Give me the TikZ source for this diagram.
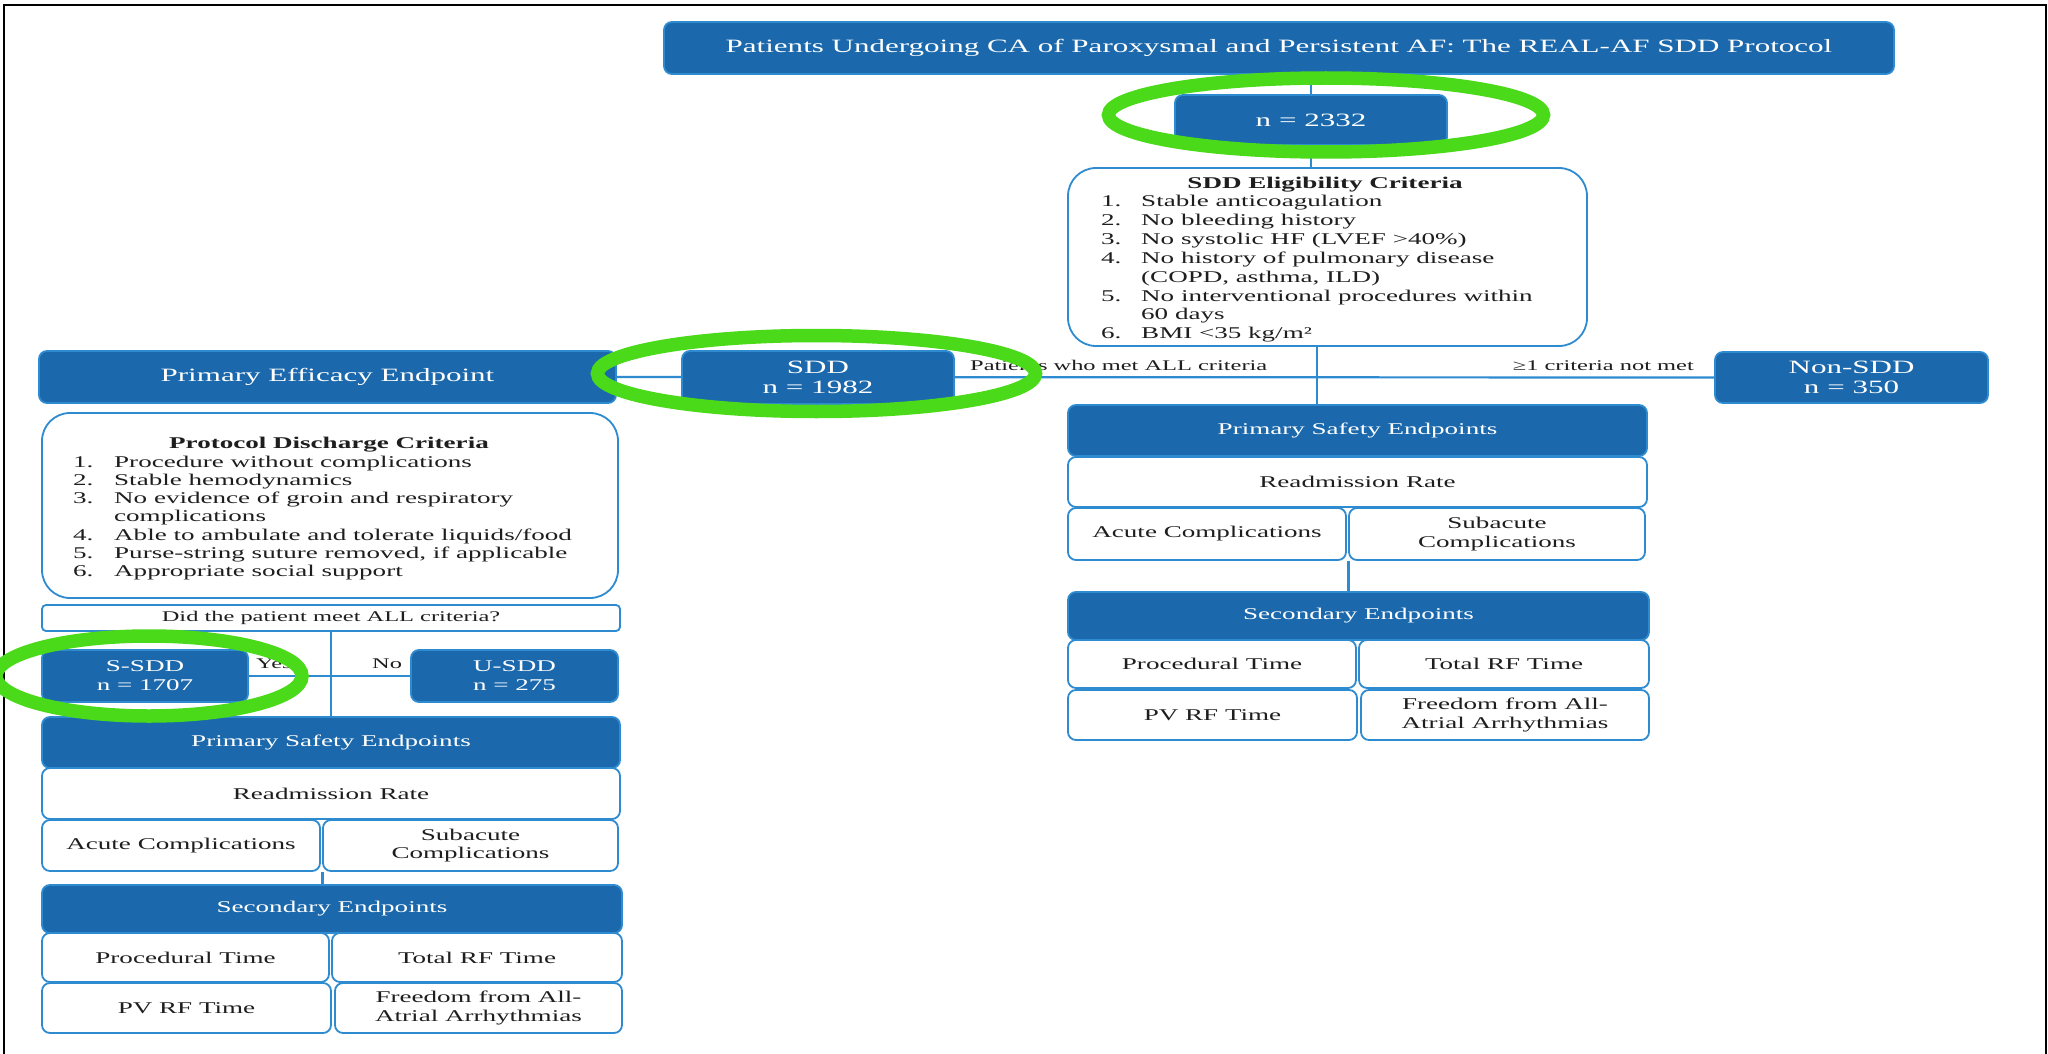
\documentclass[tikz,border=0pt]{standalone}
\usepackage{fontspec}
\setmainfont{Liberation Serif}[FakeStretch=1.65]
\usetikzlibrary{calc,backgrounds}
\definecolor{hblue}{HTML}{1B69AC}
\definecolor{bline}{HTML}{2E8BD0}
\definecolor{tdark}{HTML}{1E1E1E}
\definecolor{markg}{HTML}{4ADA1A}
\newcommand\fA{\fontsize{18.8pt}{20pt}\selectfont}
\newcommand\fB{\fontsize{16.4pt}{18.8pt}\selectfont}
\newcommand\fC{\fontsize{14.8pt}{17pt}\selectfont}
\newcommand\mybox[7]{\node[#1, minimum width={(#5-#3)*1pt}, minimum height={(#6-#4)*1pt}] (#2) at ({(#3+#5)/2},{(#4+#6)/2}) {#7};}
\tikzset{
  hdr/.style={draw=bline, fill=hblue, line width=1.8pt, rounded corners=8pt, text=white, font=\fA, align=center, inner sep=0pt},
  hdrs/.style={hdr, font=\fB},
  wbox/.style={draw=bline, fill=white, line width=1.8pt, rounded corners=8pt, text=tdark, font=\fB, align=center, inner sep=0pt},
  bigbox/.style={wbox, rounded corners=28pt},
  conn/.style={draw=bline, line width=2.2pt},
  lbl/.style={text=tdark, font=\fC, inner sep=0pt},
  ring/.style={draw=markg, line width=13.5pt},
}
\begin{document}
\begin{tikzpicture}[x=1pt,y=-1pt]
\useasboundingbox (0,0) rectangle (2048,1054);
% frame
\draw[line width=2.5pt, black] (4,1054) -- (4,5) -- (2046,5) -- (2046,1054);

% top part
\mybox{hdr}{title}{664}{22}{1894}{74}{Patients Undergoing CA of Paroxysmal and Persistent AF: The REAL-AF SDD Protocol}
\mybox{hdr}{n2332}{1175}{95}{1447}{145}{n = 2332}
\mybox{bigbox}{elig}{1068}{168}{1587}{346}{}
\node[font=\fB\bfseries, text=tdark, anchor=base, inner sep=0pt] (eligt) at (1325,188) {SDD Eligibility Criteria};
\node[font=\fontsize{16.4pt}{18.9pt}\selectfont, text=tdark, anchor=base west, inner sep=0pt] (eligl) at (1101,206.5)
 {\begin{tabular}[t]{@{}p{40pt}@{}l@{}}
 1. & Stable anticoagulation\\
 2. & No bleeding history\\
 3. & No systolic HF (LVEF >40\%)\\
 4. & No history of pulmonary disease\\
    & (COPD, asthma, ILD)\\
 5. & No interventional procedures within\\
    & 60 days\\
 6. & BMI <35 kg/m²
 \end{tabular}};

% middle row
\mybox{hdr}{pee}{39}{351}{616}{403}{Primary Efficacy Endpoint}
\mybox{hdr}{sdd}{682}{351}{954}{404}{SDD\\n = 1982}
\mybox{hdr}{nonsdd}{1715}{352}{1988}{403}{Non-SDD\\n = 350}
\coordinate (j1) at (1317,377);
\node[lbl, anchor=base west] (lmet) at (970,370) {Patients who met ALL criteria};
\node[lbl, anchor=base east] (lnot) at (1694,370) {≥1 criteria not met};

% left column
\mybox{bigbox}{prot}{42}{413}{618}{598}{}
\node[font=\fB\bfseries, text=tdark, anchor=base, inner sep=0pt] (prott) at (329,448) {Protocol Discharge Criteria};
\node[font=\fontsize{16.4pt}{18.3pt}\selectfont, text=tdark, anchor=base west, inner sep=0pt] (protl) at (73,467)
 {\begin{tabular}[t]{@{}p{41pt}@{}l@{}}
 1. & Procedure without complications\\
 2. & Stable hemodynamics\\
 3. & No evidence of groin and respiratory\\
    & complications\\
 4. & Able to ambulate and tolerate liquids/food\\
 5. & Purse-string suture removed, if applicable\\
 6. & Appropriate social support
 \end{tabular}};
\mybox{wbox, rounded corners=4pt, font=\fC}{did}{42}{605}{620}{631}{Did the patient meet ALL criteria?}
\mybox{hdr, font=\fB}{ssdd}{42}{650}{248}{702}{S-SDD\\n = 1707}
\mybox{hdr, font=\fB}{usdd}{411}{650}{618}{702}{U-SDD\\n = 275}
\node[lbl, anchor=base west] (lyes) at (256,668) {Yes};
\node[lbl, anchor=base west] (lno) at (372,668) {No};
\mybox{hdrs}{lpse}{42}{717}{620}{768}{Primary Safety Endpoints}
\mybox{wbox}{lread}{42}{768}{620}{819}{Readmission Rate}
\mybox{wbox}{lacute}{42}{820}{320}{871}{Acute Complications}
\mybox{wbox}{lsub}{323}{820}{618}{871}{Subacute\\Complications}
\mybox{hdrs}{lsec}{42}{885}{622}{933}{Secondary Endpoints}
\mybox{wbox}{lproc}{42}{933}{329}{982}{Procedural Time}
\mybox{wbox}{ltot}{332}{933}{622}{982}{Total RF Time}
\mybox{wbox}{lpv}{42}{983}{331}{1033}{PV RF Time}
\mybox{wbox}{lfree}{335}{983}{622}{1033}{Freedom from All-\\Atrial Arrhythmias}

% right column
\mybox{hdrs}{rpse}{1068}{405}{1647}{456}{Primary Safety Endpoints}
\mybox{wbox}{rread}{1068}{457}{1647}{507}{Readmission Rate}
\mybox{wbox}{racute}{1068}{508}{1346}{560}{Acute Complications}
\mybox{wbox}{rsub}{1349}{508}{1645}{560}{Subacute\\Complications}
\mybox{hdrs}{rsec}{1068}{592}{1649}{640}{Secondary Endpoints}
\mybox{wbox}{rproc}{1068}{640}{1356}{688}{Procedural Time}
\mybox{wbox}{rtot}{1359}{640}{1649}{688}{Total RF Time}
\mybox{wbox}{rpv}{1068}{690}{1357}{740}{PV RF Time}
\mybox{wbox}{rfree}{1361}{690}{1649}{740}{Freedom from All-\\Atrial Arrhythmias}

% connectors
\begin{pgfonlayer}{background}
\fill[white] (0,0) rectangle (2048,1054);
\draw[conn] (title.south -| n2332.north) -- (n2332.north);
\draw[conn] (n2332.south) -- (n2332.south |- elig.north);
\draw[conn] (elig.south -| j1) -- (rpse.north -| j1);
\draw[conn] (pee.east) -- (nonsdd.west);
\draw[conn] (did.south) -- (did.south |- lpse.north);
\draw[conn] (ssdd.east) -- (usdd.west);
\draw[conn] ([xshift=1.5pt]lacute.south east) -- ([xshift=1.5pt]lacute.south east |- lsec.north);
\draw[conn] ([xshift=1.5pt]racute.south east) -- ([xshift=1.5pt]racute.south east |- rsec.north);
\end{pgfonlayer}

% highlight rings
\draw[ring] (1326,115) ellipse [x radius=217.5, y radius=37];
\draw[ring] (816.5,373.5) ellipse [x radius=219, y radius=38];
\draw[ring] (149,676) ellipse [x radius=153, y radius=40];
\end{tikzpicture}
\end{document}
